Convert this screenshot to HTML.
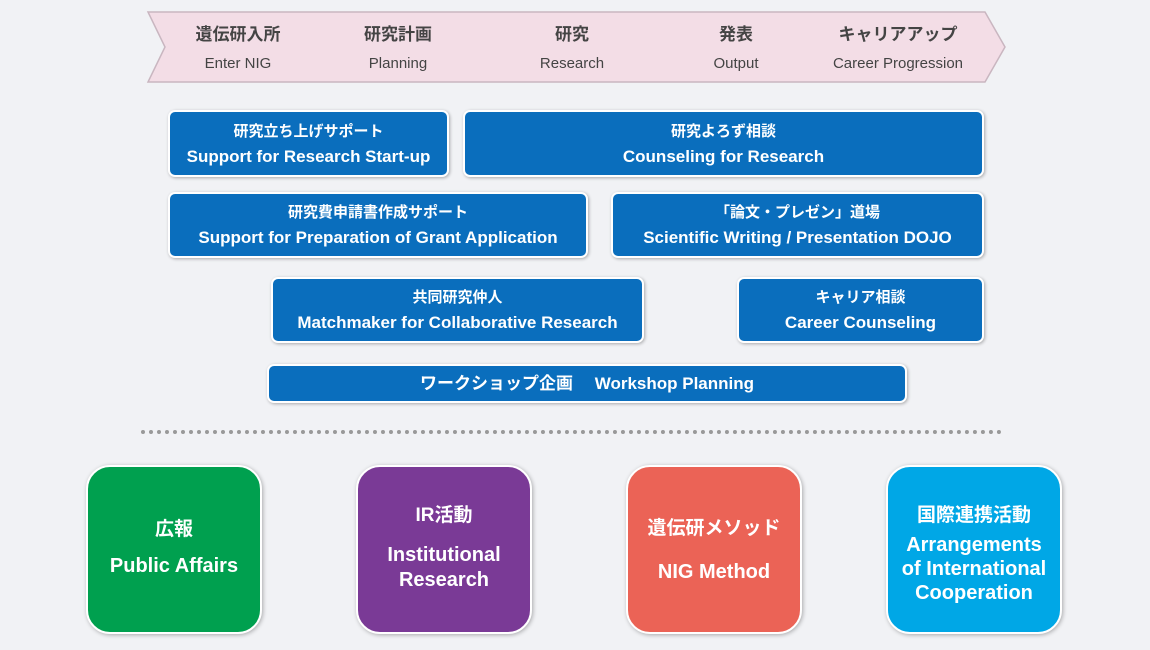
<!DOCTYPE html>
<html><head><meta charset="utf-8"><style>
body{margin:0;width:1150px;height:650px;background:#f1f2f5;font-family:"Liberation Sans","Noto Sans CJK JP",sans-serif;position:relative;overflow:hidden}
.b{position:absolute;background:#0a6ebd;border:2px solid #fff;border-radius:7px;color:#fff;font-weight:bold;text-align:center;box-sizing:border-box;box-shadow:1px 1px 3px rgba(0,0,0,.3);display:flex;flex-direction:column;justify-content:center;line-height:25px}
.b .j{font-size:15px}.b .e{font-size:17px}
.c{position:absolute;top:465px;width:176px;height:169px;border:2px solid #fff;border-radius:24px;box-sizing:border-box;color:#fff;font-weight:bold;text-align:center;box-shadow:1px 1px 4px rgba(0,0,0,.3)}
.c div{position:absolute;left:0;right:0}
.s{position:absolute;top:12px;text-align:center;color:#444;font-weight:bold}
.s .j{font-size:17px;line-height:22px;margin-top:12px}
.s .e{font-size:15px;font-weight:normal;margin-top:9px}
</style></head><body>
<svg style="position:absolute;left:0;top:0" width="1150" height="100"><polygon points="148,12 985,12 1005,47 985,82 148,82 165,47" fill="#f3dde6" stroke="#c9b6c0" stroke-width="1.5"/></svg>
<div class="s" style="left:178px;width:120px"><div class="j">遺伝研入所</div><div class="e">Enter NIG</div></div>
<div class="s" style="left:338px;width:120px"><div class="j">研究計画</div><div class="e">Planning</div></div>
<div class="s" style="left:512px;width:120px"><div class="j">研究</div><div class="e">Research</div></div>
<div class="s" style="left:676px;width:120px"><div class="j">発表</div><div class="e">Output</div></div>
<div class="s" style="left:808px;width:180px"><div class="j">キャリアアップ</div><div class="e">Career Progression</div></div>

<div class="b" style="left:168px;top:110px;width:281px;height:67px"><div class="j">研究立ち上げサポート</div><div class="e">Support for Research Start-up</div></div>
<div class="b" style="left:463px;top:110px;width:521px;height:67px"><div class="j">研究よろず相談</div><div class="e">Counseling for Research</div></div>
<div class="b" style="left:168px;top:192px;width:420px;height:66px"><div class="j">研究費申請書作成サポート</div><div class="e">Support for Preparation of Grant Application</div></div>
<div class="b" style="left:611px;top:192px;width:373px;height:66px"><div class="j">「論文・プレゼン」道場</div><div class="e">Scientific Writing / Presentation DOJO</div></div>
<div class="b" style="left:271px;top:277px;width:373px;height:66px"><div class="j">共同研究仲人</div><div class="e">Matchmaker for Collaborative Research</div></div>
<div class="b" style="left:737px;top:277px;width:247px;height:66px"><div class="j">キャリア相談</div><div class="e">Career Counseling</div></div>
<div class="b" style="left:267px;top:364px;width:640px;height:39px"><div class="e">ワークショップ企画　&nbsp;Workshop Planning</div></div>

<div style="position:absolute;left:141px;top:430px;width:861px;border-top:4px dotted #999"></div>

<div class="c" style="left:86px;background:#00a04f"><div style="top:47px;font-size:19px">広報</div><div style="top:88px;font-size:20px">Public Affairs</div></div>
<div class="c" style="left:356px;background:#7a3a96"><div style="top:33px;font-size:19px">IR活動</div><div style="top:76px;font-size:20px;line-height:25px">Institutional<br>Research</div></div>
<div class="c" style="left:626px;background:#eb6356"><div style="top:46px;font-size:19px">遺伝研メソッド</div><div style="top:94px;font-size:20px">NIG Method</div></div>
<div class="c" style="left:886px;background:#00a7e6"><div style="top:33px;font-size:19px">国際連携活動</div><div style="top:66px;font-size:20px;line-height:24px">Arrangements<br>of International<br>Cooperation</div></div>
</body></html>
